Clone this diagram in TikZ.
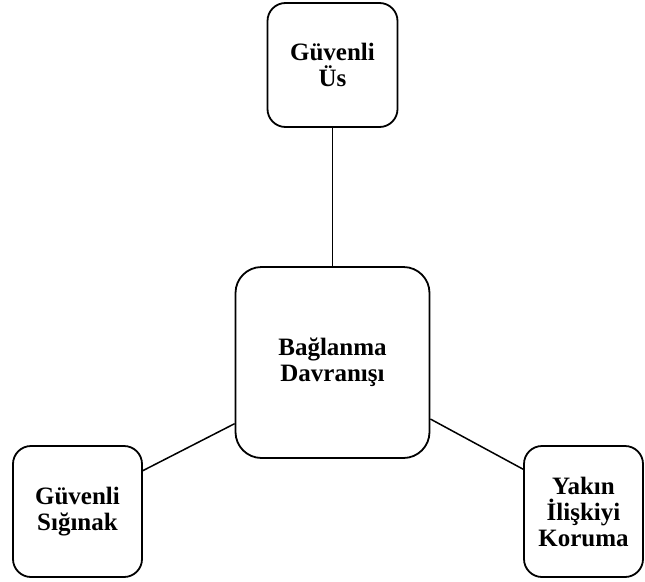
\documentclass[tikz,border=0pt]{standalone}
\usepackage{fontspec}
\setmainfont{Liberation Serif}
\usepackage{tikz}
\usetikzlibrary{positioning}

\tikzset{
    kutu/.style={draw=black, line width=1.8pt, rounded corners=18pt, fill=white,
                 align=center, inner sep=0pt, font=\fontsize{25}{26}\selectfont\bfseries},
    bag/.style={draw=black, line width=1.5pt}
}

\begin{document}
\begin{tikzpicture}[x=1pt, y=-1pt]
            % Frame to ensure alignment:
            \useasboundingbox (0, 0) rectangle (645, 581);
            \node[kutu, minimum width=194pt, minimum height=191pt, rounded corners=26pt] (merkez) at (332.5, 362.5) {Bağlanma\\Davranışı};
            \node[kutu, minimum width=130pt, minimum height=124pt] (us)     at (332.5,  65.0) {Güvenli\\Üs};
            \node[kutu, minimum width=129pt, minimum height=131pt] (sigin)  at ( 77.5, 511.5) {Güvenli\\Sığınak};
            \node[kutu, minimum width=119pt, minimum height=131pt] (koruma) at (583.5, 511.5) {Yakın\\İlişkiyi\\Koruma};
            % Connectors:
            \draw[bag] (us.south)    -- (merkez.north);
            \draw[bag] (merkez.212)  -- (sigin.32);
            \draw[bag] (merkez.-30)  -- (koruma.145);
        \end{tikzpicture}
\end{document}
